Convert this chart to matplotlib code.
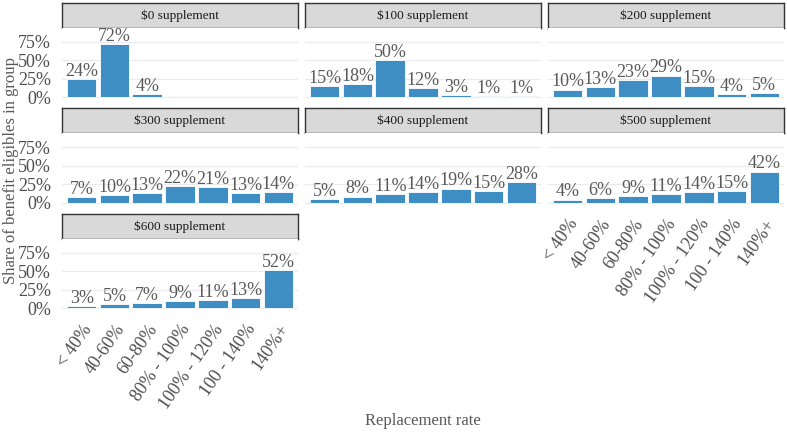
import numpy as np
import matplotlib
matplotlib.use('Agg')
import matplotlib.pyplot as plt

plt.rcParams['font.family'] = ['Liberation Serif', 'DejaVu Serif']

categories = ['< 40%', '40-60%', '60-80%', '80% - 100%', '100% - 120%', '100 - 140%', '140%+']
panel_titles = ['$0 supplement', '$100 supplement', '$200 supplement',
                '$300 supplement', '$400 supplement', '$500 supplement',
                '$600 supplement']

# share of benefit eligibles (percent), None = no bar
share_0 = [24, 72, 4, None, None, None, None]
share_100 = [15, 18, 50, 12, 3, 1, 1]
share_200 = [10, 13, 23, 29, 15, 4, 5]
share_300 = [7, 10, 13, 22, 21, 13, 14]
share_400 = [5, 8, 11, 14, 19, 15, 28]
share_500 = [4, 6, 9, 11, 14, 15, 42]
share_600 = [3, 5, 7, 9, 11, 13, 52]
shares = [share_0, share_100, share_200, share_300, share_400, share_500, share_600]

W, H = 787, 434
BAR = '#3E8EC4'
TXT = '#595959'
TICK = '#4D4D4D'

fig = plt.figure(figsize=(W / 100, H / 100), dpi=100)

col_left = [62, 305, 548]
col_w = 236
row_top = [3, 108.5, 214]
strip_h = 25
panel_h = 74

x = np.arange(len(categories))

for i, (title, vals) in enumerate(zip(panel_titles, shares)):
    r, c = divmod(i, 3)
    left = col_left[c]
    top = row_top[r]
    # strip
    sax = fig.add_axes([left / W, 1 - (top + strip_h) / H, col_w / W, strip_h / H])
    sax.set_facecolor('#D9D9D9')
    sax.set_xticks([])
    sax.set_yticks([])
    for sp in sax.spines.values():
        sp.set_color('#333333')
        sp.set_linewidth(1.0)
    sax.text(0.5, 0.5, title, ha='center', va='center', fontsize=9.5,
             color='#1A1A1A', transform=sax.transAxes)

    ax = fig.add_axes([left / W, 1 - (top + strip_h + panel_h) / H, col_w / W, panel_h / H])
    ax.set_xlim(-0.6, len(categories) - 0.4)
    ax.set_ylim(-0.068, 0.94)
    for sp in ax.spines.values():
        sp.set_visible(False)
    ax.set_yticks([0, 0.25, 0.5, 0.75])
    ax.grid(axis='y', color='#EBEBEB', linewidth=0.9)
    ax.set_axisbelow(True)
    ax.tick_params(length=0)
    if c == 0:
        ax.set_yticklabels(['0%', '25%', '50%', '75%'], fontsize=13, color=TICK)
        ax.tick_params(axis='y', pad=8)
    else:
        ax.set_yticklabels([])

    xs = [k for k, v in enumerate(vals) if v is not None]
    hs = [vals[k] / 100 for k in xs]
    ax.bar(xs, hs, width=0.9, color=BAR, edgecolor='white', linewidth=0.6)
    for k, h in zip(xs, hs):
        ax.text(k, h - 0.01, f'{vals[k]}%', ha='center', va='bottom',
                fontsize=13, color=TXT)

    ax.set_xticks(x)
    show_x = (r == 2) or (r == 1 and c == 2)
    if show_x:
        ax.set_xticklabels(categories, rotation=55, ha='right', va='top',
                           rotation_mode='anchor', fontsize=13, color=TICK)
        ax.tick_params(axis='x', pad=6)
    else:
        ax.set_xticklabels([])

fig.text(11 / W, 1 - 171 / H, 'Share of benefit eligibles in group', rotation=90,
         ha='center', va='center', fontsize=12, color=TXT)
fig.text(423 / W, 1 - 421 / H, 'Replacement rate', ha='center', va='center',
         fontsize=12, color=TXT)

fig.savefig('out.png', dpi=100, facecolor='white')
